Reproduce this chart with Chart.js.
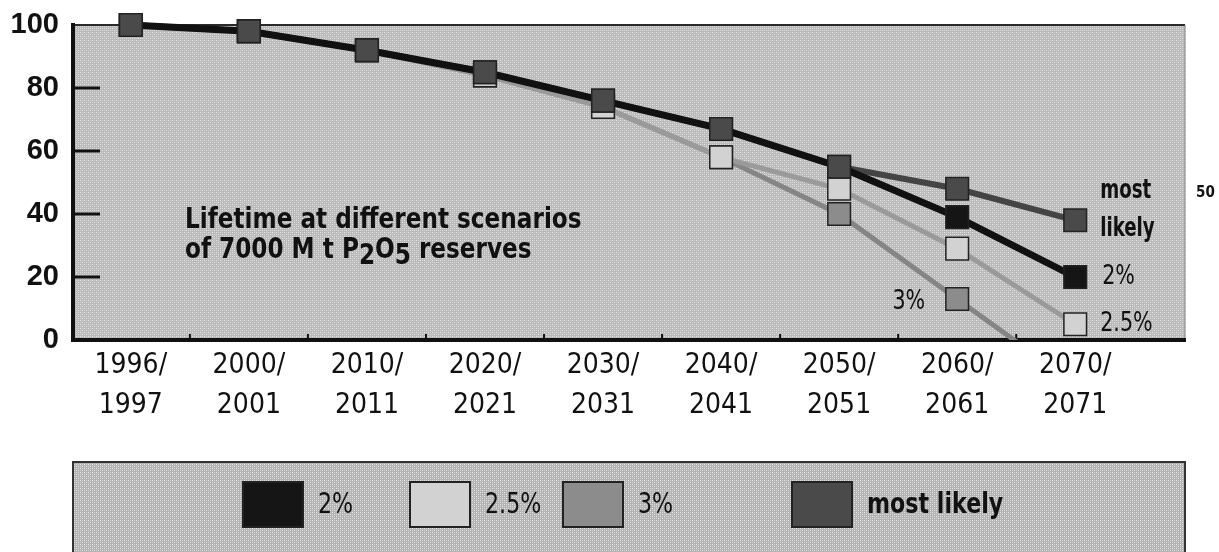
<!DOCTYPE html>
<html>
<head>
<meta charset="utf-8">
<script src="https://cdn.jsdelivr.net/npm/chart.js@4.4.0/dist/chart.umd.min.js"></script>
<style>
  html, body { margin: 0; padding: 0; background: #fff; }
</style>
</head>
<body>
<canvas id="chart" width="1219" height="552"></canvas>
<script>
// values (index of P2O5 reserves, 1996/1997 = 100)
const periods = ["1996/1997", "2000/2001", "2010/2011", "2020/2021", "2030/2031",
  "2040/2041", "2050/2051", "2060/2061", "2070/2071"];
const mostLikely = [100, 98, 92, 85, 76, 67, 55, 48, 38];
const twoPct = [100, 98, 92, 85, 76, 67, 55, 39, 20];
const twoFivePct = [100, 98, 92, 84, 74, 58, 48, 29, 5];
const threePct = [100, 98, 92, 84, 74, 58, 40, 13, -14]; // line runs out through 0 before 2070
const yTicks = [0, 20, 40, 60, 80, 100];

const NARROW = '"Liberation Sans Narrow", "DejaVu Sans Condensed", sans-serif';
const INK = "#111";
const mlFill = "#4a4a4a";

// dot screen like the printed grey tint
function screen(ctx, base) {
  const c = document.createElement("canvas");
  c.width = 4; c.height = 4;
  const g = c.getContext("2d");
  g.fillStyle = base;
  g.fillRect(0, 0, 4, 4);
  g.fillStyle = "#e6e6e6";
  g.fillRect(0, 0, 1, 1);
  g.fillRect(2, 2, 1, 1);
  g.fillStyle = "#d4d4d4";
  g.fillRect(2, 0, 1, 1);
  g.fillRect(0, 2, 1, 1);
  return ctx.createPattern(c, "repeat");
}

// draw text squeezed horizontally to look like a condensed face
function narrowText(ctx, text, x, y, squeeze) {
  ctx.save();
  ctx.translate(x, y);
  ctx.scale(squeeze, 1);
  ctx.fillText(text, 0, 0);
  ctx.restore();
  return ctx.measureText(text).width * squeeze;
}

const paper = {
  id: "paper",
  beforeDraw(chart) {
    const { ctx, chartArea: a } = chart;
    ctx.save();
    ctx.fillStyle = screen(ctx, "#b9b9b9");
    ctx.fillRect(a.left, a.top, a.right - a.left, a.bottom - a.top);
    ctx.strokeStyle = "#2a2a2a";
    ctx.lineWidth = 2;
    ctx.beginPath();
    ctx.moveTo(a.left, a.top);
    ctx.lineTo(a.right, a.top);
    ctx.stroke();
    ctx.strokeStyle = "#777";
    ctx.lineWidth = 1;
    ctx.beginPath();
    ctx.moveTo(a.right, a.top);
    ctx.lineTo(a.right, a.bottom);
    ctx.stroke();
    ctx.restore();
  },
  beforeDatasetsDraw(chart) {
    // short inward ticks
    const { ctx, chartArea: a, scales } = chart;
    ctx.save();
    ctx.strokeStyle = INK;
    ctx.lineWidth = 3;
    yTicks.slice(1, -1).forEach((v) => {
      const y = scales.y.getPixelForValue(v);
      ctx.beginPath();
      ctx.moveTo(a.left, y);
      ctx.lineTo(a.left + 27, y);
      ctx.stroke();
    });
    ctx.lineWidth = 2;
    for (let i = 0; i < periods.length - 1; i++) {
      const x = scales.x.getPixelForValue(i + 0.5);
      ctx.beginPath();
      ctx.moveTo(x, a.bottom);
      ctx.lineTo(x, a.bottom - 6);
      ctx.stroke();
    }
    ctx.restore();
  },
  afterDatasetsDraw(chart) {
    const { ctx, chartArea: a, scales } = chart;
    const last = periods.length - 1;
    const xs = scales.x, ys = scales.y;
    ctx.save();
    ctx.fillStyle = INK;
    ctx.textAlign = "left";
    ctx.textBaseline = "alphabetic";

    // caption inside the plot
    ctx.font = "bold 28px " + NARROW;
    narrowText(ctx, "Lifetime at different scenarios", a.left + 112, 228, 0.92);
    let x = a.left + 112;
    const parts = [["of 7000 M t P", 0], ["2", 1], ["O", 0], ["5", 1], [" reserves", 0]];
    parts.forEach(([t, sub]) => {
      x += narrowText(ctx, t, x, 258 + (sub ? 6 : 0), 0.92);
    });

    // end labels
    const lx = xs.getPixelForValue(last) + 25;
    const my = ys.getPixelForValue(mostLikely[last]);
    ctx.font = "bold 27px " + NARROW;
    narrowText(ctx, "most", lx, my - 22, 0.75);
    narrowText(ctx, "likely", lx, my + 16, 0.75);
    ctx.font = "27px " + NARROW;
    ctx.textBaseline = "middle";
    narrowText(ctx, "2%", lx + 2, ys.getPixelForValue(twoPct[last]), 0.85);
    narrowText(ctx, "2.5%", lx, ys.getPixelForValue(twoFivePct[last]), 0.85);
    const w3 = ctx.measureText("3%").width * 0.85;
    narrowText(ctx, "3%", xs.getPixelForValue(last - 1) - 32 - w3, ys.getPixelForValue(threePct[last - 1]) + 3, 0.85);

    // page mark at the right edge
    ctx.textBaseline = "alphabetic";
    ctx.font = "bold 15px " + NARROW;
    ctx.fillText("50", 1196, 197);
    ctx.restore();
  },
  afterDraw(chart) {
    // legend panel below the axis
    const { ctx, chartArea: a } = chart;
    const top = 462;
    ctx.save();
    ctx.fillStyle = screen(ctx, "#b3b3b3");
    ctx.fillRect(a.left, top, a.right - a.left, chart.height - top + 2);
    ctx.strokeStyle = "#333";
    ctx.lineWidth = 2;
    ctx.strokeRect(a.left, top, a.right - a.left, chart.height - top + 10);
    const slots = [243, 410, 563, 792];
    chart.data.datasets.forEach((ds, i) => {
      const sx = slots[i];
      ctx.fillStyle = ds.swatch;
      ctx.fillRect(sx, 482, 60, 45);
      ctx.strokeStyle = "#222";
      ctx.lineWidth = 2;
      ctx.strokeRect(sx, 482, 60, 45);
      ctx.fillStyle = INK;
      ctx.font = (ds.label === "most likely" ? "bold " : "") + "29px " + NARROW;
      ctx.textBaseline = "middle";
      ctx.textAlign = "left";
      narrowText(ctx, ds.label, sx + 75, 505, 0.85);
    });
    ctx.restore();
  },
};

const pointBase = { pointStyle: "rect", pointRadius: 16, pointHoverRadius: 16, pointBorderColor: "#222", pointBorderWidth: 1.5 };

new Chart(document.getElementById("chart"), {
  type: "line",
  data: {
    labels: periods.map((_, i) => i),
    datasets: [
      {
        label: "2%",
        data: twoPct,
        borderColor: "#111",
        borderWidth: 7,
        swatch: "#151515",
        ...pointBase,
        pointBackgroundColor: twoPct.map((v, i) => (v === mostLikely[i] ? mlFill : "#151515")),
        order: 1,
        clip: false,
      },
      {
        label: "2.5%",
        data: twoFivePct,
        borderColor: "#9a9a9a",
        borderWidth: 5,
        swatch: "#d2d2d2",
        ...pointBase,
        pointBackgroundColor: "#d2d2d2",
        order: 3,
        clip: false,
      },
      {
        label: "3%",
        data: threePct,
        borderColor: "#858585",
        borderWidth: 5,
        swatch: "#8c8c8c",
        ...pointBase,
        pointBackgroundColor: "#8c8c8c",
        pointRadius: threePct.map((v) => (v < 0 ? 0 : 16)),
        order: 4,
        clip: { left: false, top: false, right: false, bottom: 0 },
      },
      {
        label: "most likely",
        data: mostLikely,
        borderColor: "#444",
        borderWidth: 6,
        swatch: mlFill,
        ...pointBase,
        pointBackgroundColor: mlFill,
        order: 2,
        clip: false,
      },
    ],
  },
  options: {
    responsive: false,
    animation: false,
    tension: 0,
    layout: { padding: { top: 25, right: 34, left: 0, bottom: 0 } },
    scales: {
      x: {
        type: "linear",
        min: -0.49,
        max: 8.93,
        afterFit: (s) => { s.height = 212; },
        afterBuildTicks: (s) => { s.ticks = periods.map((_, i) => ({ value: i })); },
        grid: { display: false, drawTicks: false },
        border: { color: INK, width: 4 },
        ticks: {
          autoSkip: false,
          maxRotation: 0,
          padding: 5,
          color: INK,
          font: { family: NARROW, size: 28, lineHeight: 1.45 },
          callback: (v) => {
            const p = periods[v];
            if (!p) return "";
            const [a, b] = p.split("/");
            return [a + "/", b];
          },
        },
      },
      y: {
        min: 0,
        max: 100,
        afterFit: (s) => { s.width = 73; },
        afterBuildTicks: (s) => { s.ticks = yTicks.map((v) => ({ value: v })); },
        grid: { display: false, drawTicks: false },
        border: { color: INK, width: 4 },
        ticks: {
          padding: 14,
          color: INK,
          font: { family: '"Liberation Sans", Arial, sans-serif', size: 29, weight: "bold", lineHeight: 0.5 },
        },
      },
    },
    plugins: {
      legend: { display: false },
      tooltip: { enabled: false },
    },
  },
  plugins: [paper],
});
</script>
</body>
</html>
